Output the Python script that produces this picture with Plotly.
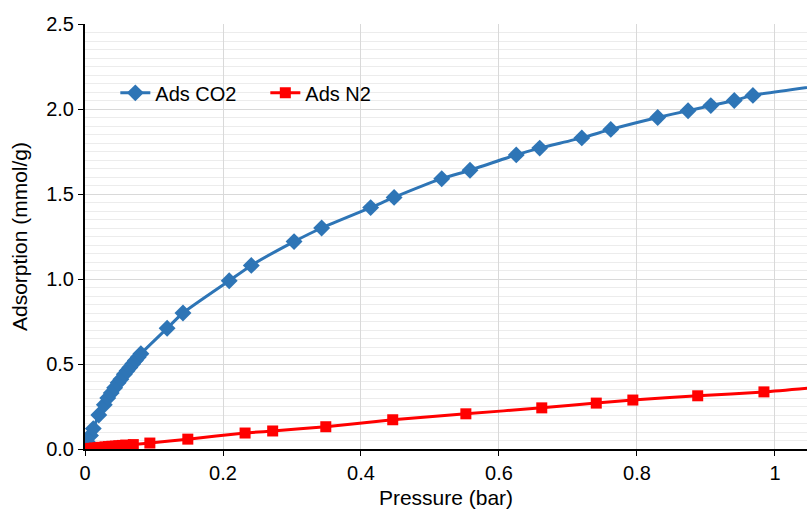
import plotly.graph_objects as go

co2_x = [0, 0.004, 0.008, 0.012, 0.02, 0.028, 0.033, 0.038, 0.043, 0.048, 0.052, 0.057,
         0.061, 0.065, 0.069, 0.073, 0.077, 0.081, 0.119, 0.142, 0.209, 0.241, 0.303,
         0.343, 0.414, 0.448, 0.517, 0.558, 0.625, 0.659, 0.720, 0.762, 0.830, 0.874,
         0.907, 0.941, 0.968, 1.08]
co2_y = [0, 0.04, 0.08, 0.12, 0.2, 0.26, 0.30, 0.33, 0.36, 0.39, 0.41, 0.44,
         0.46, 0.48, 0.50, 0.52, 0.54, 0.56, 0.71, 0.80, 0.99, 1.08, 1.22,
         1.30, 1.42, 1.48, 1.59, 1.64, 1.73, 1.77, 1.83, 1.88, 1.95, 1.99,
         2.02, 2.05, 2.08, 2.145]

n2_x = [0, 0.004, 0.009, 0.014, 0.019, 0.024, 0.029, 0.034, 0.039, 0.044, 0.049, 0.054,
        0.059, 0.070, 0.094, 0.149, 0.232, 0.272, 0.349, 0.446, 0.552, 0.662, 0.741,
        0.794, 0.888, 0.984, 1.08]
n2_y = [0, 0.002, 0.004, 0.006, 0.008, 0.010, 0.012, 0.014, 0.016, 0.017, 0.019, 0.021,
        0.023, 0.026, 0.035, 0.058, 0.094, 0.106, 0.131, 0.172, 0.207, 0.242, 0.270,
        0.288, 0.313, 0.336, 0.37]

font = "Liberation Sans, Arial, sans-serif"

fig = go.Figure()
fig.add_trace(go.Scatter(
    x=co2_x, y=co2_y, name="Ads CO2", mode="lines+markers",
    line=dict(color="#2E75B6", width=3, shape="spline", smoothing=0.6),
    marker=dict(symbol="diamond", size=13, color="#2E75B6"),
))
fig.add_trace(go.Scatter(
    x=n2_x, y=n2_y, name="Ads N2", mode="lines+markers",
    line=dict(color="#FF0000", width=3, shape="spline", smoothing=0.6),
    marker=dict(symbol="square", size=11, color="#FF0000"),
))

fig.update_layout(
    width=807, height=512,
    margin=dict(l=85, r=0, t=24, b=63, autoexpand=False),
    plot_bgcolor="white", paper_bgcolor="white",
    font=dict(family=font, size=20, color="#000000"),
    legend=dict(orientation="h", x=0.042, y=0.838, xanchor="left", yanchor="middle",
                bgcolor="rgba(0,0,0,0)", font=dict(size=20), itemwidth=30,
                entrywidth=105, tracegroupgap=0),
    showlegend=True,
)
fig.update_xaxes(
    range=[0, 1.0464], dtick=0.2, tick0=0, automargin=False,
    showline=True, linecolor="black", linewidth=2,
    ticks="outside", ticklen=5, tickcolor="black", tickwidth=1,
    showgrid=True, gridcolor="#d9d9d9", gridwidth=1,
    zeroline=False,
    title=dict(text="Pressure (bar)", font=dict(size=21), standoff=7),
    tickfont=dict(size=20),
)
fig.update_yaxes(
    range=[0, 2.5], dtick=0.5, tick0=0, tickformat=".1f", automargin=False,
    showline=True, linecolor="black", linewidth=2,
    ticks="outside", ticklen=5, tickcolor="black", tickwidth=1,
    showgrid=True, gridcolor="#d9d9d9", gridwidth=1,
    minor=dict(dtick=0.05, showgrid=True, gridcolor="#ececec", gridwidth=1, ticks=""),
    zeroline=False,
    title=dict(text="Adsorption (mmol/g)", font=dict(size=21), standoff=13),
    tickfont=dict(size=20),
)

fig.write_html("out.html", config={"displayModeBar": False},
               post_script="document.body.style.margin='0';document.body.style.overflow='hidden';")
